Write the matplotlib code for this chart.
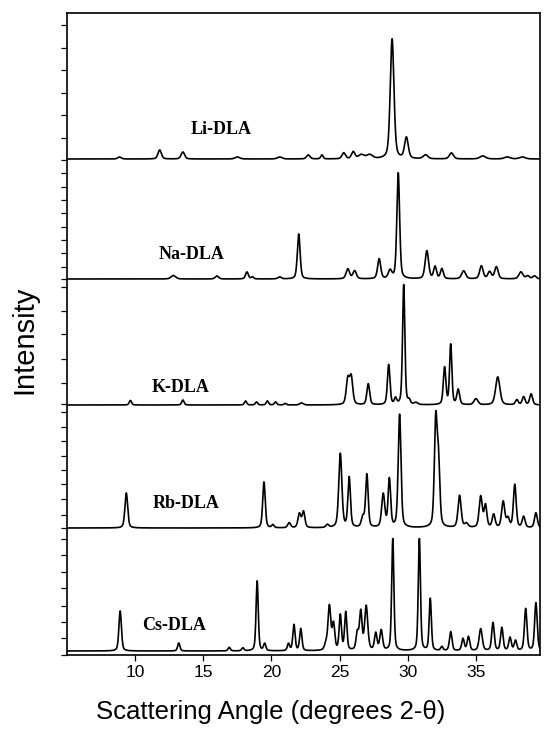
import numpy as np
import matplotlib
matplotlib.use("Agg")
import matplotlib.pyplot as plt

# peak tables: (2-theta, height, fwhm), height in plot units
li_peaks = [(8.85, 2, 0.3), (11.8, 9, 0.3), (13.5, 7, 0.3), (17.5, 2, 0.4),
            (20.6, 2, 0.4), (22.7, 4, 0.3), (23.7, 4, 0.2), (25.3, 6, 0.3),
            (26.0, 7, 0.3), (26.6, 4, 0.5), (27.2, 4, 0.5), (28.85, 120, 0.32),
            (29.9, 21, 0.32), (31.3, 4, 0.4), (33.2, 6, 0.35), (35.5, 3, 0.5),
            (37.3, 2, 0.5), (38.4, 2, 0.5)]
na_peaks = [(12.8, 3.5, 0.4), (16.0, 3, 0.3), (18.2, 7, 0.25), (18.6, 2, 0.2),
            (20.6, 2, 0.3), (22.0, 45, 0.24), (25.6, 10, 0.3), (26.1, 8, 0.3),
            (27.9, 20, 0.27), (28.7, 8, 0.3), (29.3, 106, 0.24), (31.4, 28, 0.3),
            (32.0, 12, 0.25), (32.5, 10, 0.25), (34.1, 8, 0.35), (35.4, 13, 0.3),
            (36.0, 7, 0.3), (36.5, 12, 0.3), (38.3, 7, 0.35), (38.8, 3, 0.3),
            (39.3, 3, 0.3)]
k_peaks = [(9.65, 4.5, 0.2), (13.5, 5, 0.2), (18.1, 4, 0.2), (18.9, 3, 0.2),
           (19.7, 4, 0.2), (20.3, 3, 0.2), (21.0, 1.5, 0.2), (22.2, 2, 0.3),
           (25.6, 25, 0.27), (25.85, 27, 0.27), (27.1, 21, 0.24), (28.6, 40, 0.22),
           (29.1, 6, 0.2), (29.7, 120, 0.2), (30.1, 4, 0.2), (30.6, 2, 0.3),
           (32.7, 37, 0.22), (33.15, 60, 0.2), (33.7, 15, 0.24), (35.0, 6, 0.35),
           (36.6, 28, 0.37), (38.0, 5, 0.25), (38.5, 8, 0.25), (39.05, 11, 0.25)]
rb_peaks = [(9.35, 35, 0.24), (19.45, 46, 0.22), (20.1, 3, 0.2), (21.3, 5, 0.25),
            (22.05, 14, 0.25), (22.35, 16, 0.24), (24.1, 3, 0.25), (25.05, 74, 0.27),
            (25.7, 50, 0.22), (26.7, 10, 0.25), (27.0, 53, 0.22), (28.2, 33, 0.27),
            (28.65, 48, 0.22), (29.4, 113, 0.24), (32.05, 104, 0.24), (32.25, 62, 0.24),
            (33.8, 32, 0.27), (34.3, 4, 0.3), (35.35, 31, 0.27), (35.7, 22, 0.24),
            (36.3, 13, 0.25), (37.0, 26, 0.27), (37.35, 9, 0.25), (37.85, 43, 0.24),
            (38.5, 11, 0.25), (39.4, 15, 0.25)]
cs_peaks = [(8.9, 40, 0.22), (13.2, 8, 0.2), (16.9, 3.5, 0.2), (17.9, 3, 0.2),
            (18.95, 70, 0.19), (19.5, 7, 0.2), (21.25, 7, 0.2), (21.65, 26, 0.2),
            (22.15, 22, 0.2), (24.0, 6, 0.25), (24.25, 44, 0.24), (24.55, 26, 0.22),
            (25.05, 35, 0.2), (25.45, 38, 0.2), (26.3, 17, 0.22), (26.55, 38, 0.22),
            (26.95, 44, 0.27), (27.65, 17, 0.22), (28.05, 20, 0.24), (28.9, 112, 0.19),
            (30.85, 112, 0.19), (31.65, 52, 0.19), (32.5, 4, 0.2), (33.15, 19, 0.22),
            (34.05, 12, 0.22), (34.45, 14, 0.22), (35.35, 22, 0.27), (36.25, 28, 0.22),
            (36.9, 23, 0.22), (37.5, 13, 0.22), (37.9, 10, 0.22), (38.65, 42, 0.22),
            (39.4, 48, 0.22)]

names = ["Li-DLA", "Na-DLA", "K-DLA", "Rb-DLA", "Cs-DLA"]
patterns = [li_peaks, na_peaks, k_peaks, rb_peaks, cs_peaks]
offsets = [496, 376, 250, 127, 4]

x_ticks = [10, 15, 20, 25, 30, 35]
# left-axis tick marks, one scale segment per pattern (no labels in the original)
y_ticks = [630, 607, 585, 562, 540, 517, 495,
           482, 468, 455, 442, 428, 415, 402, 388, 376,
           368, 344, 321, 296, 272, 251,
           243, 228, 214, 199, 185, 171, 156, 140, 127,
           116, 100, 83, 67, 49, 33, 17, 0]


def pattern(x, peaks):
    y = np.zeros_like(x)
    for x0, h, w in peaks:
        g = np.exp(-4 * np.log(2) * ((x - x0) / w) ** 2)
        l = 1 / (1 + 4 * ((x - x0) / w) ** 2)
        y += h * (0.6 * g + 0.4 * l)
    return y


x = np.linspace(5, 40, 4000)

fig = plt.figure(figsize=(5.45, 7.31), dpi=100)
ax = fig.add_axes([67 / 545, 1 - 655 / 731, 473 / 545, 642 / 731])

for name, peaks, off in zip(names, patterns, offsets):
    ax.plot(x, off + pattern(x, peaks), color="black", lw=1.2)

label_pos = [(221, 129), (192, 255), (181, 387), (186, 503), (174, 625)]
for name, (px, py) in zip(names, label_pos):
    fig.text(px / 545, 1 - py / 731, name, ha="center", va="center",
             family="Liberation Serif", fontweight="bold", fontsize=13)

ax.set_xlim(5, 39.7)
ax.set_ylim(0, 642)
ax.set_xticks(x_ticks)
ax.set_xticklabels([str(t) for t in x_ticks], family="Liberation Sans", fontsize=12.5)
ax.set_yticks(y_ticks)
ax.set_yticklabels([])
ax.tick_params(direction="out", length=4, width=0.9)
for s in ax.spines.values():
    s.set_linewidth(1.2)

fig.text(271 / 545, 1 - 712 / 731, "Scattering Angle (degrees 2-\u03b8)",
         ha="center", va="center", family="Liberation Sans", fontsize=18.5)
fig.text(24 / 545, 1 - 340 / 731, "Intensity", rotation=90,
         ha="center", va="center", family="Liberation Sans", fontsize=21)

fig.savefig("out.png", dpi=100)
